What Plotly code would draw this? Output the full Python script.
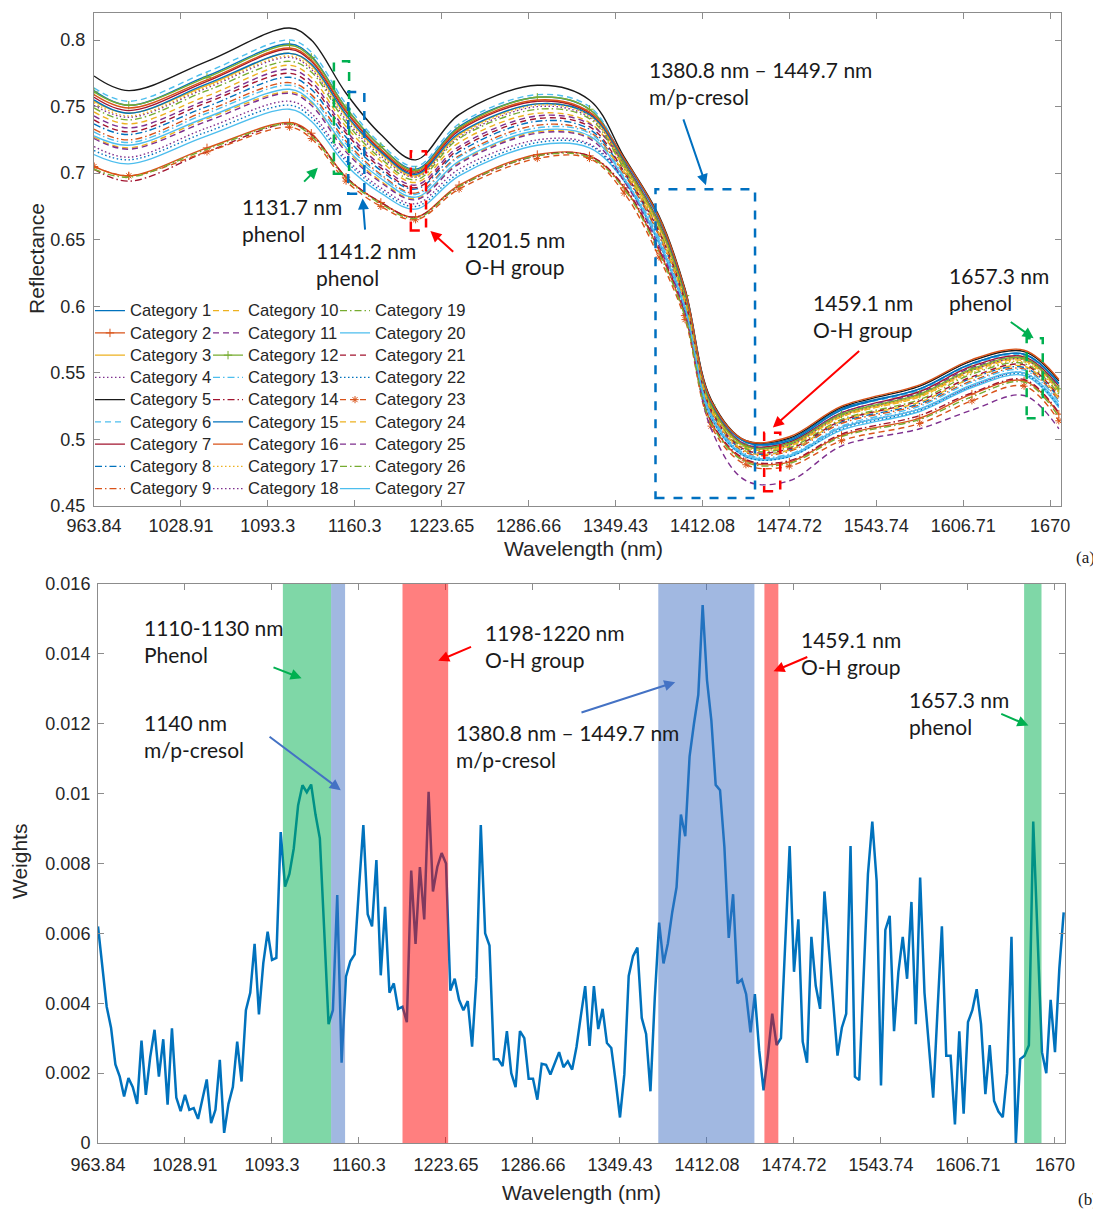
import plotly.graph_objects as go

# ---------------- axis tick labels (x axis is the band index) ----------------
TICK_BANDS = [0, 20, 40, 60, 80, 100, 120, 140, 160, 180, 200, 220]
TICK_LABELS = ["963.84", "1028.91", "1093.3", "1160.3", "1223.65", "1286.66",
               "1349.43", "1412.08", "1474.72", "1543.74", "1606.71", "1670"]

# ---------------- (a) reflectance spectra, read at anchor bands ----------------
ANCHOR_BANDS = [0, 8, 26, 45, 50, 58, 66, 74, 84, 102, 114, 122, 130, 136, 142, 150, 160, 172, 190, 202, 214, 222]

cat01 = [0.762, 0.751, 0.773, 0.797, 0.788, 0.749, 0.720, 0.703, 0.735, 0.757, 0.748, 0.710, 0.666, 0.612, 0.529, 0.498, 0.500, 0.523, 0.538, 0.557, 0.564, 0.542]
cat02 = [0.705, 0.698, 0.719, 0.738, 0.730, 0.697, 0.678, 0.667, 0.691, 0.714, 0.713, 0.689, 0.642, 0.593, 0.513, 0.484, 0.483, 0.503, 0.516, 0.534, 0.544, 0.519]
cat03 = [0.754, 0.745, 0.766, 0.790, 0.781, 0.743, 0.715, 0.698, 0.729, 0.752, 0.744, 0.705, 0.660, 0.607, 0.525, 0.495, 0.496, 0.518, 0.533, 0.552, 0.560, 0.537]
cat04 = [0.751, 0.742, 0.764, 0.787, 0.778, 0.740, 0.713, 0.697, 0.727, 0.750, 0.742, 0.706, 0.661, 0.608, 0.526, 0.495, 0.496, 0.518, 0.534, 0.552, 0.560, 0.537]
cat05 = [0.773, 0.762, 0.784, 0.809, 0.800, 0.760, 0.729, 0.710, 0.744, 0.766, 0.755, 0.712, 0.668, 0.613, 0.530, 0.499, 0.501, 0.524, 0.540, 0.559, 0.566, 0.544]
cat06 = [0.764, 0.754, 0.776, 0.800, 0.791, 0.752, 0.722, 0.705, 0.737, 0.759, 0.750, 0.709, 0.665, 0.611, 0.528, 0.497, 0.499, 0.522, 0.537, 0.556, 0.563, 0.541]
cat07 = [0.757, 0.747, 0.769, 0.793, 0.784, 0.746, 0.717, 0.700, 0.732, 0.754, 0.745, 0.708, 0.663, 0.610, 0.527, 0.496, 0.498, 0.520, 0.536, 0.555, 0.562, 0.540]
cat08 = [0.737, 0.729, 0.750, 0.772, 0.763, 0.727, 0.702, 0.688, 0.716, 0.739, 0.733, 0.700, 0.654, 0.603, 0.521, 0.491, 0.492, 0.513, 0.527, 0.546, 0.554, 0.531]
cat09 = [0.733, 0.725, 0.747, 0.768, 0.759, 0.724, 0.699, 0.685, 0.713, 0.736, 0.731, 0.699, 0.653, 0.602, 0.520, 0.490, 0.491, 0.512, 0.526, 0.544, 0.553, 0.529]
cat10 = [0.746, 0.737, 0.758, 0.781, 0.772, 0.735, 0.709, 0.693, 0.723, 0.745, 0.738, 0.704, 0.659, 0.607, 0.524, 0.494, 0.495, 0.517, 0.532, 0.551, 0.559, 0.536]
cat11 = [0.743, 0.734, 0.755, 0.778, 0.769, 0.732, 0.706, 0.691, 0.720, 0.743, 0.737, 0.707, 0.662, 0.609, 0.526, 0.496, 0.497, 0.520, 0.535, 0.554, 0.561, 0.539]
cat12 = [0.761, 0.751, 0.772, 0.796, 0.787, 0.749, 0.720, 0.702, 0.734, 0.757, 0.748, 0.707, 0.662, 0.608, 0.526, 0.495, 0.497, 0.519, 0.534, 0.553, 0.561, 0.538]
cat13 = [0.731, 0.723, 0.745, 0.766, 0.757, 0.722, 0.698, 0.684, 0.712, 0.734, 0.730, 0.697, 0.651, 0.600, 0.519, 0.489, 0.489, 0.510, 0.525, 0.543, 0.552, 0.528]
cat14 = [0.703, 0.694, 0.716, 0.737, 0.729, 0.697, 0.678, 0.667, 0.690, 0.713, 0.713, 0.690, 0.643, 0.595, 0.514, 0.485, 0.484, 0.504, 0.518, 0.535, 0.545, 0.520]
cat15 = [0.755, 0.745, 0.767, 0.790, 0.782, 0.744, 0.716, 0.699, 0.730, 0.752, 0.744, 0.710, 0.666, 0.611, 0.528, 0.498, 0.499, 0.522, 0.538, 0.557, 0.564, 0.542]
cat16 = [0.759, 0.749, 0.770, 0.794, 0.785, 0.747, 0.718, 0.701, 0.733, 0.755, 0.746, 0.711, 0.667, 0.612, 0.529, 0.499, 0.502, 0.525, 0.541, 0.560, 0.567, 0.545]
cat17 = [0.753, 0.743, 0.765, 0.788, 0.779, 0.742, 0.714, 0.697, 0.728, 0.751, 0.743, 0.704, 0.659, 0.606, 0.524, 0.494, 0.495, 0.517, 0.532, 0.550, 0.558, 0.535]
cat18 = [0.720, 0.712, 0.734, 0.754, 0.745, 0.711, 0.689, 0.677, 0.703, 0.725, 0.722, 0.695, 0.649, 0.599, 0.518, 0.488, 0.488, 0.509, 0.523, 0.540, 0.550, 0.525]
cat19 = [0.749, 0.740, 0.762, 0.784, 0.776, 0.738, 0.711, 0.695, 0.726, 0.748, 0.741, 0.703, 0.657, 0.605, 0.523, 0.493, 0.494, 0.515, 0.530, 0.549, 0.557, 0.534]
cat20 = [0.714, 0.707, 0.728, 0.748, 0.739, 0.706, 0.685, 0.673, 0.698, 0.721, 0.719, 0.694, 0.647, 0.597, 0.516, 0.487, 0.487, 0.507, 0.521, 0.539, 0.548, 0.524]
cat21 = [0.740, 0.731, 0.753, 0.775, 0.766, 0.730, 0.704, 0.689, 0.718, 0.741, 0.735, 0.701, 0.656, 0.604, 0.522, 0.492, 0.493, 0.514, 0.529, 0.547, 0.556, 0.532]
cat22 = [0.717, 0.710, 0.731, 0.751, 0.742, 0.709, 0.687, 0.675, 0.700, 0.723, 0.721, 0.694, 0.648, 0.598, 0.517, 0.487, 0.487, 0.508, 0.522, 0.540, 0.549, 0.525]
cat23 = [0.705, 0.698, 0.716, 0.7345, 0.726, 0.694, 0.675, 0.665, 0.688, 0.711, 0.711, 0.685, 0.637, 0.590, 0.510, 0.481, 0.480, 0.499, 0.512, 0.529, 0.540, 0.514]
cat24 = [0.727, 0.719, 0.741, 0.761, 0.753, 0.718, 0.694, 0.681, 0.708, 0.731, 0.727, 0.701, 0.655, 0.603, 0.522, 0.491, 0.492, 0.514, 0.528, 0.546, 0.555, 0.531]
cat25 = [0.726, 0.718, 0.739, 0.760, 0.751, 0.716, 0.693, 0.680, 0.707, 0.730, 0.726, 0.694, 0.645, 0.595, 0.508, 0.469, 0.469, 0.495, 0.508, 0.522, 0.533, 0.508]
cat26 = [0.703, 0.697, 0.718, 0.737, 0.728, 0.696, 0.677, 0.666, 0.690, 0.713, 0.712, 0.688, 0.640, 0.592, 0.512, 0.483, 0.482, 0.502, 0.515, 0.532, 0.543, 0.517]
cat27 = [0.728, 0.721, 0.742, 0.763, 0.754, 0.719, 0.696, 0.682, 0.709, 0.732, 0.728, 0.696, 0.649, 0.599, 0.518, 0.488, 0.488, 0.509, 0.523, 0.541, 0.550, 0.526]

CATEGORY_SERIES = [cat01, cat02, cat03, cat04, cat05, cat06, cat07, cat08, cat09,
                   cat10, cat11, cat12, cat13, cat14, cat15, cat16, cat17, cat18,
                   cat19, cat20, cat21, cat22, cat23, cat24, cat25, cat26, cat27]

# ---------------- (b) weights per band ----------------
WEIGHTS = [
    0.0062, 0.0050, 0.0039, 0.0033, 0.00225, 0.0019, 0.00133, 0.00186, 0.0016, 0.00112,
    0.00293, 0.00138, 0.00246, 0.00324, 0.0019, 0.00297, 0.0011, 0.00328, 0.0013, 0.00091,
    0.00138, 0.00095, 0.0010, 0.00069, 0.00127, 0.00182, 0.00057, 0.00095, 0.00238, 0.00029,
    0.00112, 0.0016, 0.0029, 0.00176, 0.0038, 0.0043, 0.0057, 0.00368, 0.00515, 0.00605,
    0.00524, 0.0053, 0.0089, 0.00734, 0.0077, 0.00843, 0.00966, 0.01024, 0.01004, 0.01026,
    0.0094, 0.00872, 0.0061, 0.0034, 0.0038, 0.0071, 0.0023, 0.00476, 0.0052, 0.0054,
    0.0073, 0.0091, 0.00655, 0.0062, 0.0081, 0.0048, 0.00676, 0.0043, 0.00457, 0.00384,
    0.0039, 0.00346, 0.0078, 0.0057, 0.0079, 0.0064, 0.01005, 0.0072, 0.0079, 0.0083,
    0.0080, 0.00436, 0.0047, 0.0041, 0.0038, 0.00406, 0.00276, 0.00474, 0.0091, 0.0060,
    0.00565, 0.0024, 0.0024, 0.0022, 0.0032, 0.0020, 0.0016, 0.0032, 0.0030, 0.00184,
    0.00184, 0.00124, 0.00227, 0.00224, 0.00196, 0.0023, 0.0026, 0.00217, 0.00234, 0.0021,
    0.00275, 0.00364, 0.00449, 0.00278, 0.00449, 0.00326, 0.00384, 0.00286, 0.00272, 0.00177,
    0.00073, 0.00197, 0.00478, 0.00535, 0.00559, 0.00358, 0.00312, 0.00148, 0.00416, 0.00631,
    0.00514, 0.00571, 0.0066, 0.00732, 0.0094, 0.00878, 0.01107, 0.0120, 0.01283, 0.0154,
    0.01325, 0.0121, 0.01025, 0.0101, 0.00847, 0.00587, 0.00712, 0.00457, 0.00468, 0.00426,
    0.00317, 0.00426, 0.00265, 0.00151, 0.0025, 0.0037, 0.0028, 0.0030, 0.0057, 0.0085,
    0.0049, 0.0064, 0.0029, 0.0023, 0.0059, 0.0045, 0.00384, 0.0072, 0.0056, 0.0041,
    0.0025, 0.0033, 0.0037, 0.0085, 0.0019, 0.0018, 0.0048, 0.0077, 0.0092, 0.0075,
    0.00165, 0.0061, 0.0065, 0.0032, 0.0049, 0.0059, 0.0047, 0.0069, 0.0034, 0.0076,
    0.0043, 0.0029, 0.0013, 0.0038, 0.0062, 0.0025, 0.0025, 0.00053, 0.0032, 0.00084,
    0.00346, 0.0038, 0.0044, 0.0034, 0.0014, 0.0028, 0.0012, 0.0009, 0.00074, 0.0020,
    0.0059, 0.0000, 0.0024, 0.0025, 0.0028, 0.0092, 0.0056, 0.0026, 0.0020, 0.0041,
    0.0026, 0.0050, 0.0066,
]
WEIGHT_BANDS = list(range(len(WEIGHTS)))

# highlighted regions in (b): (start band, end band, kind)
REGION_START = [42.5, 53.6, 70.0, 128.8, 153.2, 212.9]
REGION_END = [53.6, 56.8, 80.5, 150.9, 156.4, 216.9]
REGION_KIND = ["phenol", "cresol", "oh", "cresol", "oh", "phenol"]

# ---------------- styles ----------------
BLUE, ORANGE, YELLOW, PURPLE = "#0072BD", "#D95319", "#EDB120", "#7E2F8E"
GREEN, LBLUE, DRED, BLACK = "#77AC30", "#4DBEEE", "#A2142F", "#1a1a1a"
DASH = "6px,4px"
DOT = "1.5px,2.5px"
DASHDOT = "7px,3px,1.5px,3px"
STYLE = [
    (BLUE, "solid", None), (ORANGE, "solid", "cross-thin-open"), (YELLOW, "solid", None),
    (PURPLE, DOT, None), (BLACK, "solid", None), (LBLUE, DASH, None),
    (DRED, "solid", None), (BLUE, DASHDOT, None), (ORANGE, DASHDOT, None),
    (YELLOW, DASH, None), (PURPLE, DASH, None), (GREEN, "solid", "cross-thin-open"),
    (LBLUE, DASHDOT, None), (DRED, DASHDOT, None), (BLUE, "solid", None),
    (ORANGE, "solid", None), (YELLOW, DOT, None), (PURPLE, DOT, None),
    (GREEN, DASHDOT, None), (LBLUE, "solid", None), (DRED, DASH, None),
    (BLUE, DOT, None), (ORANGE, DASH, "asterisk-open"), (YELLOW, DASH, None),
    (PURPLE, DASH, None), (GREEN, DASHDOT, None), (LBLUE, "solid", None),
]

TICK_FONT = dict(family="Liberation Sans, Arial, sans-serif", size=18, color="#262626")
ANN_FONT = dict(family="Lato, Open Sans, sans-serif", size=21, color="#1a1a1a")
AXIS_LINE = "#8c8c8c"

# figure is drawn inside the page's 8px body margin
FIG_W, FIG_H = 1093, 1204

fig = go.Figure()

legend_ids = ["legend", "legend2", "legend3"]
for i, vals in enumerate(CATEGORY_SERIES):
    color, dash, sym = STYLE[i]
    mode = "lines+markers" if sym else "lines"
    fig.add_trace(go.Scatter(
        x=ANCHOR_BANDS, y=vals, mode=mode,
        name='<span style="font-size:16.6px">Category %d</span>' % (i + 1),
        line=dict(color=color, width=1.4, dash=dash, shape="spline", smoothing=1.0),
        marker=dict(symbol=sym or "circle", size=6, color=color, line=dict(color=color, width=1)),
        legend=legend_ids[i // 9], xaxis="x", yaxis="y", hoverinfo="skip",
    ))

fig.add_trace(go.Scatter(
    x=WEIGHT_BANDS, y=WEIGHTS, mode="lines", name="Weights",
    line=dict(color="#0072BD", width=2.5), showlegend=False,
    xaxis="x2", yaxis="y2", hoverinfo="skip",
))

shapes = []
fill = {"phenol": "rgba(0,176,80,0.5)", "cresol": "rgba(68,114,196,0.5)", "oh": "rgba(255,0,0,0.5)"}
for s, e, k in zip(REGION_START, REGION_END, REGION_KIND):
    shapes.append(dict(type="rect", xref="x2", yref="y2", x0=s, x1=e, y0=0, y1=0.016,
                       fillcolor=fill[k], line=dict(width=0), layer="above"))

# dashed marker boxes in (a)
G_LINE, B_LINE, R_LINE = "#00B050", "#0070C0", "#FF0000"
for x0, x1, y0, y1, c in [
    (55.2, 58.7, 0.6995, 0.784, G_LINE),
    (58.5, 62.2, 0.6845, 0.761, B_LINE),
    (72.9, 76.4, 0.657, 0.7165, R_LINE),
    (129.2, 152.1, 0.456, 0.688, B_LINE),
    (154.2, 157.9, 0.461, 0.505, R_LINE),
    (214.6, 218.3, 0.516, 0.576, G_LINE),
]:
    shapes.append(dict(type="rect", xref="x", yref="y", x0=x0, x1=x1, y0=y0, y1=y1,
                       line=dict(color=c, width=2.5, dash="dash"), layer="above"))

annotations = []


def label(x, y, text, xr, yr):
    annotations.append(dict(x=x, y=y, xref=xr, yref=yr, text=text, showarrow=False,
                            xanchor="left", yanchor="middle", align="left", font=ANN_FONT))


def arrow(hx, hy, tx, ty, color, xr, yr):
    annotations.append(dict(x=hx, y=hy, ax=tx, ay=ty, xref=xr, yref=yr, axref=xr, ayref=yr,
                            text="", showarrow=True, arrowhead=2, arrowsize=1.1,
                            arrowwidth=2, arrowcolor=color, standoff=0, startstandoff=0))


# (a) labels
label(127.2, 0.7675, "1380.8 nm – 1449.7 nm<br>m/p-cresol", "x", "y")
label(33.5, 0.665, "1131.7 nm<br>phenol", "x", "y")
label(50.7, 0.6315, "1141.2 nm<br>phenol", "x", "y")
label(85.0, 0.640, "1201.5 nm<br>O-H group", "x", "y")
label(164.9, 0.5928, "1459.1 nm<br>O-H group", "x", "y")
label(196.2, 0.6128, "1657.3 nm<br>phenol", "x", "y")
arrow(51.5, 0.704, 48.0, 0.6925, "#00B050", "x", "y")
arrow(61.8, 0.681, 62.4, 0.6565, "#0070C0", "x", "y")
arrow(77.4, 0.6565, 83.0, 0.640, "#FF0000", "x", "y")
arrow(140.8, 0.691, 135.5, 0.7415, "#0070C0", "x", "y")
arrow(156.2, 0.509, 176.4, 0.5675, "#FF0000", "x", "y")
arrow(216.2, 0.576, 210.6, 0.589, "#00B050", "x", "y")

# (b) labels
label(10.1, 0.014365, "1110-1130 nm<br>Phenol", "x2", "y2")
label(10.1, 0.01166, "1140 nm<br>m/p-cresol", "x2", "y2")
label(88.4, 0.014235, "1198-1220 nm<br>O-H group", "x2", "y2")
label(81.9, 0.011355, "1380.8 nm – 1449.7 nm<br>m/p-cresol", "x2", "y2")
label(161.1, 0.014025, "1459.1 nm<br>O-H group", "x2", "y2")
label(186.0, 0.01232, "1657.3 nm<br>phenol", "x2", "y2")
arrow(46.8, 0.0133, 40.0, 0.01363, "#00B050", "x2", "y2")
arrow(55.8, 0.0101, 39.1, 0.01166, "#4472C4", "x2", "y2")
arrow(78.2, 0.0138, 86.1, 0.01422, "#FF0000", "x2", "y2")
arrow(132.7, 0.01319, 110.8, 0.01231, "#4472C4", "x2", "y2")
arrow(155.3, 0.0135, 163.4, 0.01393, "#FF0000", "x2", "y2")
arrow(213.9, 0.01195, 207.3, 0.0123, "#00B050", "x2", "y2")

# axis titles and panel tags
TITLE_FONT = dict(family="Liberation Sans, Arial, sans-serif", size=21, color="#262626")
for x, y, t, ang in [
    (0.0265, 0.7924, "Reflectance", -90),
    (0.5261, 0.5507, "Wavelength (nm)", 0),
    (0.0110, 0.2907, "Weights", -90),
    (0.5243, 0.0158, "Wavelength (nm)", 0),
]:
    annotations.append(dict(x=x, y=y, xref="paper", yref="paper", text=t, showarrow=False,
                            textangle=ang, xanchor="center", yanchor="middle", font=TITLE_FONT))
TAG_FONT = dict(family="Liberation Serif, Times New Roman, serif", size=17, color="#1a1a1a")
annotations.append(dict(x=0.9854, y=0.544, xref="paper", yref="paper", text="(a)",
                        showarrow=False, xanchor="center", yanchor="middle", font=TAG_FONT))
annotations.append(dict(x=0.999, y=0.0100, xref="paper", yref="paper", text="(b)",
                        showarrow=False, xanchor="right", yanchor="middle", font=TAG_FONT))

axis_common = dict(showgrid=False, zeroline=False, showline=True, linecolor=AXIS_LINE,
                   linewidth=1, mirror="ticks", ticks="inside", ticklen=6, tickcolor=AXIS_LINE,
                   tickfont=TICK_FONT, automargin=False)

leg_common = dict(xanchor="left", yanchor="top", bgcolor="rgba(0,0,0,0)", borderwidth=0,
                  itemwidth=30, tracegroupgap=0, traceorder="normal",
                  font=dict(family="Liberation Sans, Arial, sans-serif", size=14.8, color="#262626"))

fig.update_layout(
    template="none",
    width=FIG_W, height=FIG_H,
    margin=dict(l=0, r=0, t=0, b=0, autoexpand=False),
    paper_bgcolor="white", plot_bgcolor="white",
    xaxis=dict(domain=[0.07868, 0.96340], range=[0, 222.5], anchor="y",
               tickvals=TICK_BANDS, ticktext=TICK_LABELS, ticklabelstandoff=3, **axis_common),
    yaxis=dict(domain=[0.58638, 0.99585], range=[0.45, 0.8203], anchor="x",
               tickvals=[0.45, 0.5, 0.55, 0.6, 0.65, 0.7, 0.75, 0.8],
               ticktext=["0.45", "0.5", "0.55", "0.6", "0.65", "0.7", "0.75", "0.8"],
               ticklabelstandoff=4, **axis_common),
    xaxis2=dict(domain=[0.08234, 0.96706], range=[0, 222.3], anchor="y2",
                tickvals=TICK_BANDS, ticktext=TICK_LABELS, ticklabelstandoff=5, **axis_common),
    yaxis2=dict(domain=[0.05731, 0.52159], range=[0, 0.016], anchor="x2",
                tickvals=[0, 0.002, 0.004, 0.006, 0.008, 0.01, 0.012, 0.014, 0.016],
                ticktext=["0", "0.002", "0.004", "0.006", "0.008", "0.01", "0.012", "0.014", "0.016"],
                ticklabelstandoff=3, **axis_common),
    legend=dict(x=0.0750, y=0.7620, **leg_common),
    legend2=dict(x=0.1830, y=0.7620, **leg_common),
    legend3=dict(x=0.2992, y=0.7620, **leg_common),
    shapes=shapes,
    annotations=annotations,
    showlegend=True,
)

fig.write_html("out.html")
